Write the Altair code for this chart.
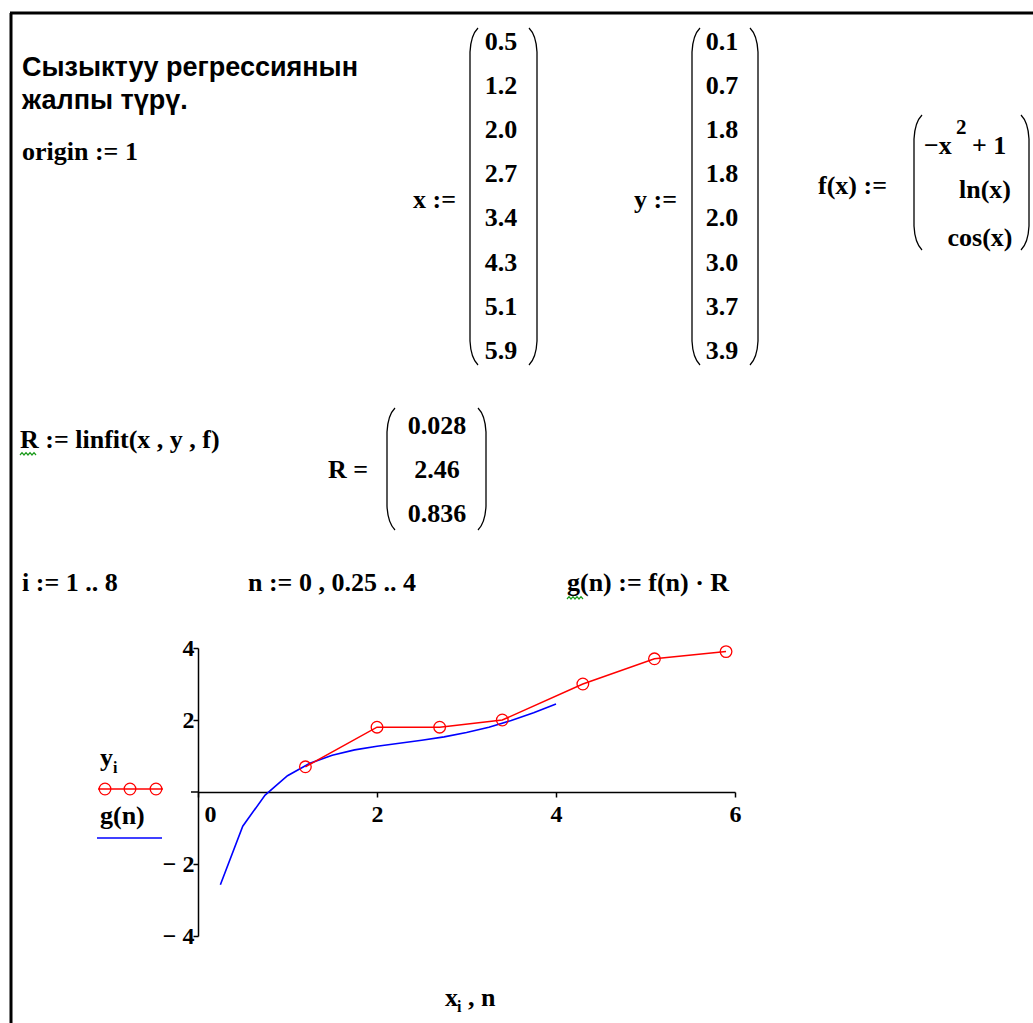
import altair as alt
import pandas as pd

# worksheet data
x_vals = [0.5, 1.2, 2.0, 2.7, 3.4, 4.3, 5.1, 5.9]
y_vals = [0.1, 0.7, 1.8, 1.8, 2.0, 3.0, 3.7, 3.9]
R_vals = [0.028, 2.46, 0.836]
n_vals = [0.25, 0.5, 0.75, 1.0, 1.25, 1.5, 1.75, 2.0,
          2.25, 2.5, 2.75, 3.0, 3.25, 3.5, 3.75, 4.0]
g_vals = [-2.574, -0.950, -0.084, 0.452, 0.797, 1.022, 1.170, 1.273,
          1.356, 1.437, 1.532, 1.651, 1.801, 1.984, 2.200, 2.444]
x_ticks = [0, 2, 4, 6]
y_ticks = [-4, -2, 2, 4]

pts = pd.DataFrame({"x": x_vals[1:], "y": y_vals[1:]})
fit = pd.DataFrame({"n": n_vals, "g": g_vals})
one = pd.DataFrame({"d": [0]})

SERIF = "Liberation Serif"
SANS = "Liberation Sans"
RED = "#ff0000"
BLUE = "#0000ff"
MATH = 26
NB = "\u00a0"

# plot frame (page pixels)
OX, OY = 198, 648
W, H = 537, 288
PAGE_W, PAGE_H = 1033, 1023

xs = alt.Scale(domain=[0, 6], nice=False, zero=False)
ys = alt.Scale(domain=[-4, 4], nice=False, zero=False)

x_axis = alt.Axis(
    values=x_ticks, offset=-H / 2, title=None, grid=False,
    domainColor="black", domainWidth=1.5, tickColor="black", tickWidth=1.5,
    tickSize=5, labelFont=SERIF, labelFontWeight="bold", labelFontSize=24,
    labelColor="black", labelBaseline="top", labelPadding=5,
    labelFlush=False,
    labelExpr="format(datum.value, 'd')",
    labelAlign={"condition": {"test": "datum.value == 0", "value": "left"},
                "value": "center"},
    labelOffset={"condition": {"test": "datum.value == 0", "value": 6},
                 "value": 0},
)
y_axis = alt.Axis(
    values=y_ticks, title=None, grid=False,
    domainColor="black", domainWidth=1.5, tickColor="black", tickWidth=1.5,
    tickSize=5, labelFont=SERIF, labelFontWeight="bold", labelFontSize=24,
    labelColor="black", labelPadding=-1,
    labelExpr="datum.value < 0 ? '\u2212 ' + abs(datum.value) : format(datum.value, 'd')",
)

fit_line = alt.Chart(fit).mark_line(color=BLUE, strokeWidth=1.6).encode(
    x=alt.X("n:Q", scale=xs, axis=x_axis),
    y=alt.Y("g:Q", scale=ys, axis=y_axis),
)
pt_line = alt.Chart(pts).mark_line(color=RED, strokeWidth=1.5).encode(
    x=alt.X("x:Q", scale=xs), y=alt.Y("y:Q", scale=ys))
pt_marks = alt.Chart(pts).mark_point(
    shape="circle", size=135, filled=False, color=RED, strokeWidth=1.3, opacity=1
).encode(x=alt.X("x:Q", scale=xs), y=alt.Y("y:Q", scale=ys))

layers = [fit_line, pt_line, pt_marks]


def px(X):
    return X - OX


def py(Y):
    return Y - OY


def text(s, X, Y, size=MATH, font=SERIF, align="left", color="black"):
    layers.append(
        alt.Chart(one).mark_text(
            text=s, font=font, fontSize=size, fontWeight="bold",
            align=align, baseline="middle", color=color,
        ).encode(x=alt.value(px(X)), y=alt.value(py(Y)))
    )


def paren(X, top, bottom, side):
    r = (bottom - top) / 2
    hx = 8 / r * (1 if side == "left" else -1)
    hy = 24 / r
    path = (f"M {hx:.4f} -1 Q {0.1 * hx:.4f} {-1 + 0.3 * hy:.4f} 0 {-1 + hy:.4f} "
            f"L 0 {1 - hy:.4f} Q {0.1 * hx:.4f} {1 - 0.3 * hy:.4f} {hx:.4f} 1")
    layers.append(
        alt.Chart(one).mark_point(
            shape=path, size=(bottom - top) ** 2, filled=False,
            color="black", strokeWidth=1.3, opacity=1,
        ).encode(x=alt.value(px(X)), y=alt.value(py((top + bottom) / 2)))
    )


def squiggle(X0, X1, Y):
    w = X1 - X0
    path = "M -1 0 L -0.75 -0.3 L -0.5 0 L -0.25 -0.3 L 0 0 L 0.25 -0.3 L 0.5 0 L 0.75 -0.3 L 1 0"
    layers.append(
        alt.Chart(one).mark_point(
            shape=path, size=w ** 2, filled=False, color="#1a9a1a",
            strokeWidth=1.2, opacity=1,
        ).encode(x=alt.value(px((X0 + X1) / 2)), y=alt.value(py(Y)))
    )


def hrule(X0, X1, Y, color="black", width=3):
    layers.append(
        alt.Chart(one).mark_rule(color=color, strokeWidth=width).encode(
            x=alt.value(px(X0)), x2=alt.value(px(X1)), y=alt.value(py(Y)))
    )


def vrule(X, Y0, Y1, color="black", width=3):
    layers.append(
        alt.Chart(one).mark_rule(color=color, strokeWidth=width).encode(
            x=alt.value(px(X)), y=alt.value(py(Y0)), y2=alt.value(py(Y1)))
    )


# page frame
hrule(10, PAGE_W, 13)
vrule(11, 13, PAGE_H)

# heading
text("Сызыктуу регрессиянын", 22, 68, size=27, font=SANS)
text("жалпы түрү.", 22, 101, size=27, font=SANS)
text("origin := 1", 22, 152)

# x and y vectors
ROW0, ROWSTEP = 42, 44.1
text("x :=", 413, 200)
paren(470, 28, 365, "left")
paren(537, 28, 365, "right")
for k, v in enumerate(x_vals):
    text(f"{v:.1f}", 501, ROW0 + ROWSTEP * k, align="center")

text("y :=", 634, 200)
paren(692, 28, 365, "left")
paren(758, 28, 365, "right")
for k, v in enumerate(y_vals):
    text(f"{v:.1f}", 722, ROW0 + ROWSTEP * k, align="center")

# basis functions
text("f(x) :=", 818, 186)
paren(914, 115, 250, "left")
paren(1029, 115, 250, "right")
text("\u2212x", 924, 146)
text("2", 956, 128, size=21)
text("+ 1", 972, 146)
text("ln(x)", 985, 190, align="center")
text("cos(x)", 980, 238, align="center")

# fit coefficients
text("R := linfit(x , y , f)", 20, 440)
squiggle(20, 36, 455)
text("R =", 328, 470)
paren(387, 408, 530, "left")
paren(486, 408, 530, "right")
for k, v in enumerate(R_vals):
    text(str(v), 437, 426 + 44 * k, align="center")

# ranges and model
text("i := 1 .. 8", 22, 583)
text("n := 0 , 0.25 .. 4", 248, 583)
text(f"g(n) := f(n){NB}\u00b7{NB}R", 567, 583)
squiggle(567, 583, 599)

# x-axis stub left of the y-axis
hrule(191, OX, 792, width=1.5)

# legend
text("y", 100, 758)
text("i", 113, 768, size=16)
hrule(98, 163, 789, color=RED, width=1.5)
for cx in (105, 130, 156):
    layers.append(
        alt.Chart(one).mark_point(
            shape="circle", size=135, filled=False, color=RED,
            strokeWidth=1.3, opacity=1,
        ).encode(x=alt.value(px(cx)), y=alt.value(py(789)))
    )
text("g(n)", 100, 816)
hrule(97, 162, 838, color=BLUE, width=1.5)

# axis caption
text("x", 445, 998)
text("i", 457, 1007, size=16)
text(", n", 468, 998)

chart = alt.layer(*layers).properties(
    width=W, height=H,
    autosize=alt.AutoSizeParams(type="none"),
    padding={"left": OX, "top": OY, "right": PAGE_W - OX - W, "bottom": PAGE_H - OY - H},
    background="white",
).configure_view(stroke=None)

chart.save("out.html", embed_options={"renderer": "svg", "actions": False})
